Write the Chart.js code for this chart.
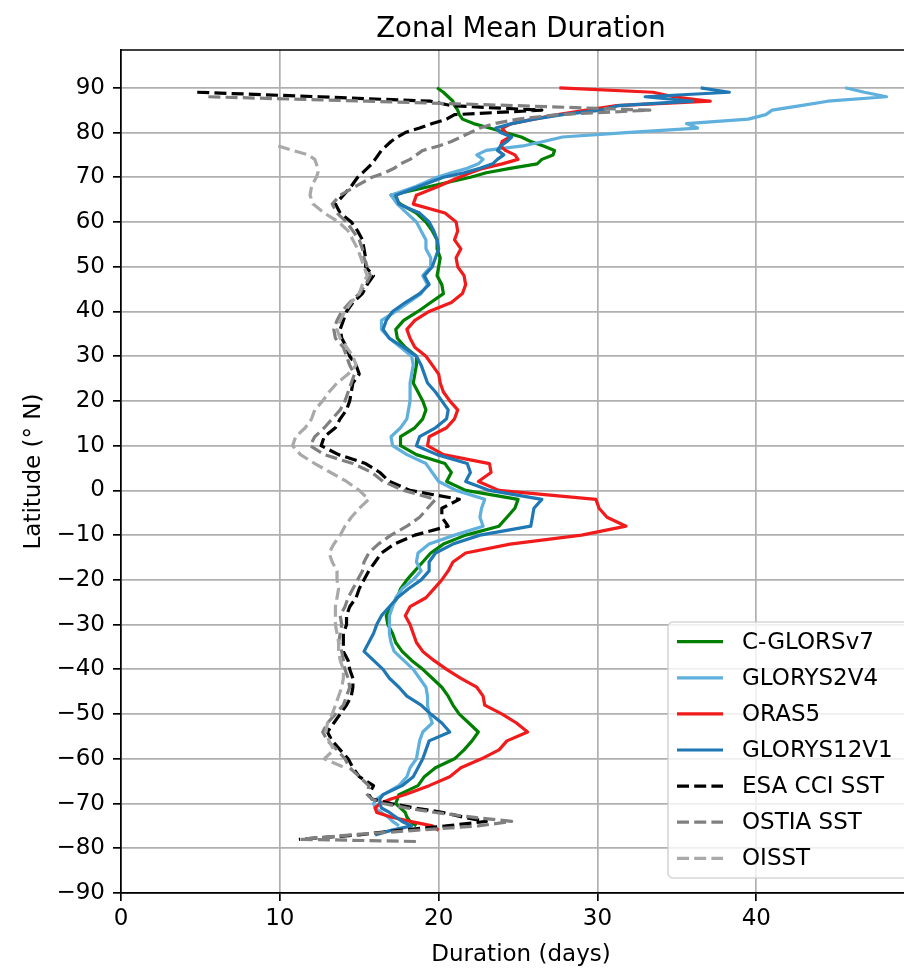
<!DOCTYPE html>
<html>
<head>
<meta charset="utf-8">
<script src="https://cdn.jsdelivr.net/npm/chart.js@4.4.1/dist/chart.umd.min.js"></script>
<style>
html,body{margin:0;padding:0;overflow:hidden;background:#ffffff;}
canvas{display:block;}
</style>
</head>
<body>
<canvas id="chart" width="940" height="969"></canvas>
<script>
// ---------------- DATA ----------------
const latitudes = [90,89,88,87,86,85,84,83,82,81,80,79,78,77,76,75,74,73,72,71,
  70,68,66,64,62,60,58,56,54,52,50,48,46,44,42,40,38,36,34,32,30,28,26,24,22,20,18,16,14,12,
  10,8,6,4,2,0,-2,-4,-6,-8,-10,-12,-14,-16,-18,-20,-22,-24,-26,-28,-30,-32,-34,-36,-38,-40,
  -42,-44,-46,-48,-50,-52,-54,-56,-58,-60,-62,-64,-66,-68,
  -69,-70,-71,-72,-73,-74,-75,-76,-77,-78,-78.5];

const cglors = [19.9,20.3,20.6,20.9,21.0,21.2,21.3,21.5,22.2,23.2,24.2,25.2,25.8,26.6,27.3,27.2,26.5,26.2,24.5,23.0,
  22.0,19.5,17.0,17.6,18.6,19.2,19.6,19.9,19.9,20.1,
  20.0,19.9,20.2,20.3,19.5,18.7,17.8,17.3,17.4,17.9,
  18.6,18.6,18.5,18.4,18.7,19.0,19.2,19.0,18.5,17.6,
  17.6,18.6,20.4,20.8,20.5,21.7,25.0,24.8,24.3,23.8,
  21.7,20.3,19.5,19.0,18.5,18.0,17.6,17.4,17.0,16.7,
  16.8,17.1,17.3,17.7,18.3,19.0,19.6,20.2,20.6,20.9,
  21.3,21.9,22.5,22.1,21.6,21.0,19.8,19.1,18.7,17.5,
  17.4,17.3,17.6,17.9,18.0,18.2,18.6,null,null,null,null];

const glorys2v4 = [45.6,46.8,48.2,44.5,42.8,41.0,40.6,39.5,35.6,36.3,31.8,27.8,26.6,25.3,23.0,22.4,22.8,22.5,21.8,20.8,
  19.9,18.6,17.0,17.4,18.0,18.6,18.9,19.2,19.2,19.5,
  19.5,19.0,19.3,18.9,18.1,17.3,16.4,16.4,16.9,17.6,
  18.3,18.4,18.3,18.2,18.2,18.2,18.1,18.0,17.6,17.0,
  17.1,18.0,19.2,19.6,20.0,21.1,22.9,22.7,22.6,22.8,
  21.0,19.4,18.7,18.6,18.9,18.4,17.7,17.3,17.1,16.9,
  16.9,16.9,17.0,17.2,17.8,18.4,18.8,19.2,19.3,19.3,
  19.4,19.6,19.0,18.8,18.7,18.6,18.2,18.0,17.5,16.5,
  16.1,15.9,16.0,16.4,16.8,17.1,17.5,null,null,null,null];

const oras5 = [27.6,33.5,34.8,37.1,31.2,29.3,27.5,26.0,24.6,24.0,24.2,24.5,24.0,23.9,24.2,24.8,25.0,24.0,22.8,22.0,
  21.3,20.0,18.6,18.4,20.4,21.1,21.2,21.0,21.4,21.1,
  21.2,21.6,21.7,21.5,20.8,19.4,18.5,18.0,18.2,18.5,
  19.2,19.6,20.0,20.1,20.3,20.7,21.2,21.0,20.5,19.4,
  19.3,20.3,23.2,23.3,22.5,23.8,29.9,30.1,30.6,31.8,
  29.0,24.5,21.7,20.9,20.6,20.2,19.7,19.2,18.2,17.9,
  18.2,18.4,18.6,19.0,19.7,20.5,21.4,22.4,22.8,22.9,
  24.0,24.9,25.6,24.3,23.8,22.7,21.4,20.7,19.4,17.9,
  17.0,16.3,16.0,16.1,17.0,18.2,19.6,20.0,null,null,null];

const glorys12v1 = [36.5,38.3,33.0,36.0,31.3,30.2,27.8,26.0,24.6,23.6,23.9,24.6,24.3,23.9,23.7,24.1,23.7,23.4,22.6,21.6,
  20.3,18.8,17.3,17.5,18.8,19.4,19.7,19.9,20.0,19.8,
  19.6,19.1,19.4,18.8,17.9,17.1,16.7,16.5,16.9,17.8,
  18.6,18.9,19.1,19.3,19.8,20.2,20.6,20.5,19.8,18.8,
  18.6,19.9,21.8,22.0,21.7,23.2,26.5,26.0,25.9,25.8,
  22.6,20.9,19.8,19.4,19.4,18.9,18.1,17.4,16.9,16.4,
  16.1,15.9,15.6,15.3,15.9,16.5,16.9,17.5,18.0,18.9,
  19.5,20.2,20.7,19.4,19.2,19.0,18.7,18.4,17.7,16.5,
  16.3,16.3,16.4,16.9,17.3,17.7,18.3,17.0,16.0,null,null];

const esaCci = [null,4.8,12.5,19.5,20.8,26.5,21.0,20.5,19.6,18.8,17.9,17.4,17.0,16.7,16.4,16.2,16.0,15.8,15.5,15.2,
  14.9,14.5,14.0,13.5,13.8,14.5,14.9,15.2,15.3,15.4,
  15.4,15.9,15.5,15.2,14.6,14.2,14.0,13.8,13.9,14.2,
  14.4,14.8,15.0,14.6,14.5,14.4,14.2,13.8,13.5,12.8,
  12.6,13.7,15.4,16.3,16.9,18.2,21.3,20.2,20.2,20.6,
  18.5,17.2,16.4,16.0,15.6,15.3,15.0,14.8,14.4,14.2,
  14.2,14.0,14.0,14.0,14.3,14.4,14.6,14.6,14.5,14.2,
  13.8,13.4,13.0,13.3,13.8,14.3,14.6,15.0,15.9,15.6,
  15.8,17.0,18.5,20.3,21.5,23.0,20.5,17.5,15.0,11.2,null];

const ostia = [null,null,5.5,15.5,25.0,33.3,27.5,25.0,23.5,22.6,22.0,21.4,20.8,20.0,19.0,18.6,18.2,17.6,17.2,16.6,
  15.8,14.8,13.8,13.3,13.6,14.2,14.6,15.0,15.2,15.3,
  15.5,15.7,15.4,15.0,14.4,13.9,13.6,13.4,13.5,14.0,
  14.2,14.4,14.7,14.5,14.3,14.1,13.8,13.3,12.8,12.2,
  11.9,12.8,14.6,15.8,16.5,17.8,19.8,19.3,18.8,18.0,
  17.0,16.2,15.6,15.3,15.2,14.9,14.6,14.3,14.1,13.8,
  13.9,13.8,13.7,13.9,14.0,14.1,14.3,14.4,14.2,14.0,
  13.5,13.0,12.7,13.0,13.6,14.1,14.4,15.0,15.6,15.5,
  15.8,16.5,18.0,19.8,22.0,24.6,22.5,18.5,14.5,11.3,18.8];

const oisst = [null,null,null,null,null,null,null,null,null,null,null,null,null,9.9,10.8,11.8,12.2,12.3,12.4,12.4,
  12.3,12.0,11.9,12.1,12.8,13.7,14.3,14.6,14.9,15.1,
  15.3,15.5,15.2,15.0,14.5,14.1,13.8,13.6,13.8,14.2,
  14.6,14.8,14.3,13.6,13.1,12.7,12.2,12.0,11.6,11.0,
  10.8,11.3,12.2,13.2,14.2,15.0,15.6,15.0,14.5,14.1,
  13.8,13.4,13.1,13.3,13.6,13.6,13.7,13.6,13.5,13.5,
  13.5,13.6,13.7,13.7,13.8,14.0,14.0,13.9,13.7,13.5,
  13.3,13.0,12.9,13.1,13.4,12.8,14.1,null,null,null,
  null,null,null,null,null,null,null,null,null,null,null];

const seriesNames = ['C-GLORSv7','GLORYS2V4','ORAS5','GLORYS12V1','ESA CCI SST','OSTIA SST','OISST'];
const seriesValues = [cglors, glorys2v4, oras5, glorys12v1, esaCci, ostia, oisst];
const yTicks = [-90,-80,-70,-60,-50,-40,-30,-20,-10,0,10,20,30,40,50,60,70,80,90];
const xTicks = [0,10,20,30,40];
const chartTitle = 'Zonal Mean Duration';
const xTitle = 'Duration (days)';
const yTitle = 'Latitude (\u00B0 N)';

// ---------------- STYLE ----------------
const seriesColors = ['#008000','#5fb0dc','#f21b1b','#1f77b4','#000000','#808080','#a9a9a9'];
const seriesDashed = [false,false,false,false,true,true,true];
const FS = 23;
const FONT = "'DejaVu Sans', sans-serif";
const DASH = [12, 5.2];
const LW = 3.2;
const X_MIN = 0, X_MAX = 50.37, Y_MIN = -90, Y_MAX = 98.45;
const PAD = {left: 8, right: 19, top: 50, bottom: 0};
const AREA_LEFT = 121, AREA_BOTTOM = 893, CANVAS_H = 969;

Chart.defaults.font.family = FONT;
Chart.defaults.color = '#000';

const fmt = v => String(v).replace('-', '\u2212');

const datasets = seriesNames.map((name, k) => ({
  label: name,
  data: latitudes.map((lat, i) => seriesValues[k][i] == null ? null : {x: seriesValues[k][i], y: lat}).filter(p => p),
  showLine: true,
  borderColor: seriesColors[k],
  backgroundColor: seriesColors[k],
  borderWidth: LW,
  borderDash: seriesDashed[k] ? DASH : [],
  borderJoinStyle: 'round',
  borderCapStyle: 'butt',
  pointRadius: 0,
  pointHoverRadius: 0,
  fill: false,
  tension: 0,
  order: seriesNames.length - k
}));

const decor = {
  id: 'decor',
  afterDraw(chart) {
    const {ctx, chartArea: a} = chart;
    ctx.save();
    // top spine
    ctx.strokeStyle = '#000';
    ctx.lineWidth = 1.7;
    ctx.beginPath();
    ctx.moveTo(a.left - 0.85, a.top);
    ctx.lineTo(a.right, a.top);
    ctx.stroke();
    // title
    ctx.fillStyle = '#000';
    ctx.font = `27.5px ${FONT}`;
    ctx.textAlign = 'center';
    ctx.textBaseline = 'alphabetic';
    ctx.fillText(chartTitle, (a.left + a.right) / 2, 37);
    // legend
    const bx = 668, by = 622, bw = 244, bh = 256, r = 5;
    ctx.globalAlpha = 0.8;
    ctx.fillStyle = '#ffffff';
    ctx.strokeStyle = '#cccccc';
    ctx.lineWidth = 1.6;
    ctx.beginPath();
    ctx.moveTo(bx + r, by);
    ctx.lineTo(bx + bw - r, by);
    ctx.arcTo(bx + bw, by, bx + bw, by + r, r);
    ctx.lineTo(bx + bw, by + bh - r);
    ctx.arcTo(bx + bw, by + bh, bx + bw - r, by + bh, r);
    ctx.lineTo(bx + r, by + bh);
    ctx.arcTo(bx, by + bh, bx, by + bh - r, r);
    ctx.lineTo(bx, by + r);
    ctx.arcTo(bx, by, bx + r, by, r);
    ctx.closePath();
    ctx.fill();
    ctx.stroke();
    ctx.globalAlpha = 1;
    chart.data.datasets.forEach((ds, i) => {
      const yy = 641.7 + i * 36.1;
      ctx.strokeStyle = ds.borderColor;
      ctx.lineWidth = LW;
      ctx.lineCap = 'butt';
      ctx.setLineDash(ds.borderDash || []);
      ctx.beginPath();
      ctx.moveTo(677, yy);
      ctx.lineTo(723, yy);
      ctx.stroke();
      ctx.setLineDash([]);
      ctx.fillStyle = '#000';
      ctx.font = `${FS}px ${FONT}`;
      ctx.textAlign = 'left';
      ctx.textBaseline = 'middle';
      ctx.fillText(ds.label, 742, yy + 1);
    });
    ctx.restore();
  }
};

new Chart(document.getElementById('chart'), {
  type: 'scatter',
  data: {datasets},
  options: {
    responsive: false,
    animation: false,
    events: [],
    devicePixelRatio: 1,
    layout: {padding: PAD},
    plugins: {legend: {display: false}, title: {display: false}, tooltip: {enabled: false}},
    scales: {
      x: {
        type: 'linear', position: 'bottom', min: X_MIN, max: X_MAX,
        afterBuildTicks: s => { s.ticks = xTicks.map(v => ({value: v})); },
        afterFit: s => { s.height = CANVAS_H - AREA_BOTTOM - PAD.bottom; },
        ticks: {font: {size: FS}, color: '#000', padding: 4, callback: v => fmt(v), maxRotation: 0, autoSkip: false},
        grid: {color: '#b0b0b0', lineWidth: 1.7, tickLength: 8, tickColor: '#000', tickWidth: 1.7, drawTicks: true},
        border: {display: true, color: '#000', width: 1.7},
        title: {display: true, text: xTitle, font: {size: FS}, color: '#000', padding: {top: 4, bottom: 0}}
      },
      y: {
        type: 'linear', position: 'left', min: Y_MIN, max: Y_MAX,
        afterBuildTicks: s => { s.ticks = yTicks.map(v => ({value: v})); },
        afterFit: s => { s.width = AREA_LEFT - PAD.left; },
        ticks: {font: {size: FS}, color: '#000', padding: 8, callback: v => fmt(v), autoSkip: false},
        grid: {color: '#b0b0b0', lineWidth: 1.7, tickLength: 8, tickColor: '#000', tickWidth: 1.7, drawTicks: true},
        border: {display: true, color: '#000', width: 1.7},
        title: {display: true, text: yTitle, font: {size: FS}, color: '#000', padding: {top: 12, bottom: 4}}
      }
    }
  },
  plugins: [decor]
});
</script>
</body>
</html>
